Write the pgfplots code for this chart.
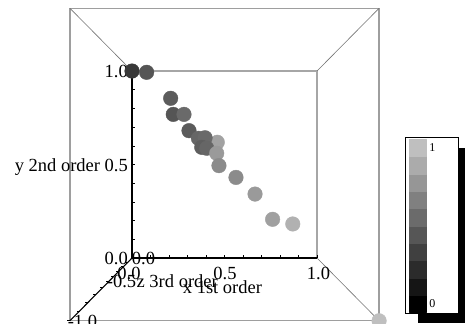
\documentclass[border=0pt]{standalone}
\usepackage{pgfplots}
\pgfplotsset{compat=1.18}
\usepackage{fontspec}
\setmainfont{Liberation Serif}
\tikzset{lab/.style={font=\fontsize{18.5bp}{21bp}\selectfont, inner sep=0pt},
  smalllab/.style={font=\fontsize{12bp}{14bp}\selectfont, inner sep=0pt}}
\begin{document}
\begin{tikzpicture}
\begin{axis}[name=ax,
  x=185bp, y=187bp,
  xmin=-0.7135, xmax=1.8108, ymin=-0.3476, ymax=1.3797,
  hide axis, clip=false,
  colormap={bw}{gray(0cm)=(0); gray(1cm)=(0.75)},
  point meta min=0, point meta max=1,
  unbounded coords=jump,
]
% outer box (z=-1 plane)
\addplot[draw=black!38, line width=1.2bp, mark=none] coordinates {(-0.3356,-0.3356) (1.3356,-0.3356) (1.3356,1.3356) (-0.3356,1.3356) (-0.3356,-0.3356)};
% inner box (z=0 plane)
\addplot[draw=black!35, line width=1.2bp, mark=none] coordinates {(0,1) (1,1) (1,0)};
% edges
\addplot[draw=black!55, line width=0.6bp, mark=none] coordinates {(-0.3356,1.3356) (0,1) (nan,nan) (1.3356,1.3356) (1,1) (nan,nan) (1,0) (1.3356,-0.3356)};
% axes
\addplot[draw=black, line width=1.1bp, mark=none] coordinates {(0,1) (0,0) (1,0)};
\addplot[draw=black, line width=1.1bp, mark=none] coordinates {(0,0) (-0.3356,-0.3356)};
% y ticks
\addplot[draw=black, line width=0.6bp, mark=none] coordinates {
(0,0.1) (0.016,0.1) (nan,nan) (0,0.2) (0.016,0.2) (nan,nan) (0,0.3) (0.016,0.3) (nan,nan)
(0,0.4) (0.016,0.4) (nan,nan) (0,0.5) (0.016,0.5) (nan,nan) (0,0.6) (0.016,0.6) (nan,nan)
(0,0.7) (0.016,0.7) (nan,nan) (0,0.8) (0.016,0.8) (nan,nan) (0,0.9) (0.016,0.9) (nan,nan)
(0,1.0) (0.016,1.0)};
% x ticks
\addplot[draw=black, line width=0.6bp, mark=none] coordinates {
(0.1,0) (0.1,0.016) (nan,nan) (0.2,0) (0.2,0.016) (nan,nan) (0.3,0) (0.3,0.016) (nan,nan)
(0.4,0) (0.4,0.016) (nan,nan) (0.5,0) (0.5,0.016) (nan,nan) (0.6,0) (0.6,0.016) (nan,nan)
(0.7,0) (0.7,0.016) (nan,nan) (0.8,0) (0.8,0.016) (nan,nan) (0.9,0) (0.9,0.016) (nan,nan)
(1.0,0) (1.0,0.016)};
% z ticks
\addplot[draw=black, line width=0.6bp, mark=none] coordinates {
(-0.0209,-0.0209) (-0.0369,-0.0209) (nan,nan) (-0.0437,-0.0437) (-0.0597,-0.0437) (nan,nan)
(-0.0685,-0.0685) (-0.0845,-0.0685) (nan,nan) (-0.0957,-0.0957) (-0.1117,-0.0957) (nan,nan)
(-0.1256,-0.1256) (-0.1416,-0.1256) (nan,nan) (-0.1587,-0.1587) (-0.1747,-0.1587) (nan,nan)
(-0.1955,-0.1955) (-0.2115,-0.1955) (nan,nan) (-0.2367,-0.2367) (-0.2527,-0.2367) (nan,nan)
(-0.283,-0.283) (-0.299,-0.283) (nan,nan) (-0.3356,-0.3356) (-0.3516,-0.3356)};
% data points
\addplot[scatter, only marks, mark=*, mark size=7.3bp, point meta=explicit,
  scatter/use mapped color={draw=mapped color, fill=mapped color}]
  table[meta=c] {
x y c
0.461 0.619 0.84
0.000 1.000 0.29
0.079 0.993 0.44
0.209 0.854 0.48
0.223 0.768 0.44
0.281 0.768 0.55
0.308 0.681 0.47
0.359 0.640 0.53
0.395 0.643 0.55
0.377 0.592 0.49
0.404 0.587 0.53
0.458 0.560 0.80
0.470 0.494 0.72
0.562 0.431 0.72
0.665 0.342 0.80
0.760 0.207 0.83
0.869 0.182 0.92
1.3356 -0.3356 1.00
};
% labels
\node[lab, anchor=base east] at (axis cs:-0.0216,0.967) {1.0};
\node[lab, anchor=base east] at (axis cs:-0.0216,0.462) {y 2nd order 0.5};
\node[lab, anchor=base east] at (axis cs:-0.0216,-0.037) {0.0};
\node[lab, anchor=base west] at (axis cs:-0.0016,-0.037) {0.0};
\node[lab, anchor=base] at (axis cs:-0.016,-0.113) {0.0};
\node[lab, anchor=base] at (axis cs:0.503,-0.113) {0.5};
\node[lab, anchor=base] at (axis cs:1.008,-0.113) {1.0};
\node[lab, anchor=base east] at (axis cs:0.024,-0.158) {-0.5};
\node[lab, anchor=base west] at (axis cs:0.024,-0.158) {z 3rd order};
\node[lab, anchor=base] at (axis cs:0.489,-0.189) {x 1st order};
\node[lab, anchor=base] at (axis cs:-0.268,-0.369) {-1.0};
% colour bar: shadow and box
\addplot[draw=none, fill=black, mark=none] coordinates {(1.5476,0.5866) (1.80,0.5866) (1.80,-0.3476) (1.5476,-0.3476)} -- cycle;
\addplot[draw=black, fill=white, line width=1bp, mark=none] coordinates {(1.4773,0.6433) (1.7659,0.6433) (1.7659,-0.2957) (1.4773,-0.2957)} -- cycle;
% colour bands
\addplot[patch, patch type=rectangle, shader=flat, point meta=explicit, draw=none]
  table[meta=c] {
x y c
1.5 -0.2904 0
1.5892 -0.2904 0
1.5892 -0.19788 0
1.5 -0.19788 0
1.5 -0.19788 0.1111
1.5892 -0.19788 0.1111
1.5892 -0.10536 0.1111
1.5 -0.10536 0.1111
1.5 -0.10536 0.2222
1.5892 -0.10536 0.2222
1.5892 -0.01284 0.2222
1.5 -0.01284 0.2222
1.5 -0.01284 0.3333
1.5892 -0.01284 0.3333
1.5892 0.07968 0.3333
1.5 0.07968 0.3333
1.5 0.07968 0.4444
1.5892 0.07968 0.4444
1.5892 0.1722 0.4444
1.5 0.1722 0.4444
1.5 0.1722 0.5556
1.5892 0.1722 0.5556
1.5892 0.26472 0.5556
1.5 0.26472 0.5556
1.5 0.26472 0.6667
1.5892 0.26472 0.6667
1.5892 0.35724 0.6667
1.5 0.35724 0.6667
1.5 0.35724 0.7778
1.5892 0.35724 0.7778
1.5892 0.44976 0.7778
1.5 0.44976 0.7778
1.5 0.44976 0.8889
1.5892 0.44976 0.8889
1.5892 0.54228 0.8889
1.5 0.54228 0.8889
1.5 0.54228 1
1.5892 0.54228 1
1.5892 0.6348 1
1.5 0.6348 1
};
\node[smalllab, anchor=base] at (axis cs:1.624,0.571) {1};
\node[smalllab, anchor=base] at (axis cs:1.624,-0.262) {0};
\end{axis}
\pgfresetboundingbox
\useasboundingbox (ax.south west) rectangle (ax.north east);
\end{tikzpicture}
\end{document}
